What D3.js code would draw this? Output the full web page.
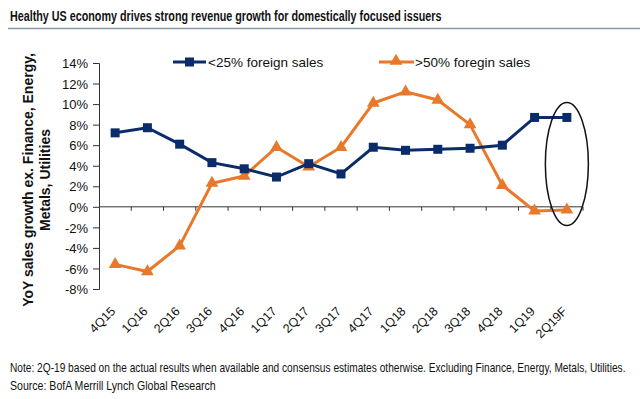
<!DOCTYPE html>
<html>
<head>
<meta charset="utf-8">
<script src="https://cdn.jsdelivr.net/npm/d3@7/dist/d3.min.js"></script>
<style>
  body { margin: 0; background: #fff; }
  text { font-family: "Liberation Sans", Arial, sans-serif; fill: #111; }
</style>
</head>
<body>
<div id="chart"></div>
<script>
// data
var quarters  = ["4Q15","1Q16","2Q16","3Q16","4Q16","1Q17","2Q17","3Q17","4Q17","1Q18","2Q18","3Q18","4Q18","1Q19","2Q19F"]
var domestic  = [7.2, 7.7, 6.1, 4.3, 3.7, 2.9, 4.2, 3.2, 5.8, 5.5, 5.6, 5.7, 6.0, 8.7, 8.7]
var foreign   = [-5.6, -6.3, -3.8, 2.3, 3.0, 5.8, 3.9, 5.8, 10.1, 11.2, 10.4, 8.0, 2.1, -0.4, -0.3]
var yTicks    = [-8, -6, -4, -2, 0, 2, 4, 6, 8, 10, 12, 14]

var width = 640, height = 399
  , navy = "#0b2c6b", orange = "#e8792a"

var svg = d3.select("#chart").append("svg").attr("width", width).attr("height", height)

// squeeze a text horizontally to a given width (no narrow font installed)
function squeeze(sel, x0, y0, w) {
  var natural = sel.node().getComputedTextLength()
  sel.attr("transform", "translate(" + x0 + "," + y0 + ") scale(" + (w / natural) + ",1)")
}

// title + rule
var title = svg.append("text").attr("font-size", 15.5).attr("font-weight", "bold")
   .text("Healthy US economy drives strong revenue growth for domestically focused issuers")
squeeze(title, 10, 21, 432)
svg.append("line").attr("x1", 8).attr("x2", 640).attr("y1", 28.5).attr("y2", 28.5)
   .attr("stroke", "#8a98a6").attr("stroke-width", 1.5)

var x = d3.scaleBand().domain(quarters).range([99, 583])
var y = d3.scaleLinear().domain([-8, 14]).range([289, 63])

// y axis
var yAxis = d3.axisLeft(y).tickValues(yTicks).tickSize(6).tickFormat(function (d) { return d + "%" })
var gy = svg.append("g").attr("transform", "translate(99,0)").call(yAxis)
gy.select(".domain").attr("stroke", "#333")
gy.selectAll(".tick line").attr("stroke", "#333")
gy.selectAll(".tick text").attr("font-size", 13).attr("x", -11).attr("dy", "0.36em")
  .attr("font-family", "'Liberation Sans', Arial, sans-serif").attr("fill", "#111")

// x axis on the zero line, ticks between categories
var gx = svg.append("g").attr("transform", "translate(0," + y(0) + ")")
gx.append("line").attr("x1", 99).attr("x2", 583).attr("stroke", "#333")
gx.selectAll(".tk").data(quarters).enter().append("line")
  .attr("x1", function (d) { return x(d) + x.bandwidth() }).attr("x2", function (d) { return x(d) + x.bandwidth() })
  .attr("y1", 0).attr("y2", 4).attr("stroke", "#333")

// category labels along the bottom, rotated
svg.selectAll(".xl").data(quarters).enter().append("text")
   .attr("transform", function (d) { return "translate(" + (x(d) + x.bandwidth() / 2 + 1) + ",312) rotate(-45)" })
   .attr("text-anchor", "end").attr("font-size", 12.5)
   .text(function (d) { return d })

// y label
var yl = svg.append("text").attr("transform", "translate(0,180) rotate(-90)")
   .attr("text-anchor", "middle").attr("font-size", 14).attr("font-weight", "bold")
yl.append("tspan").attr("x", 0).attr("y", 33).text("YoY sales growth ex. Finance, Energy,")
yl.append("tspan").attr("x", 0).attr("y", 50).text("Metals, Utilities")

var cx = function (d, i) { return x(quarters[i]) + x.bandwidth() / 2 }
var line = d3.line().x(cx).y(function (d) { return y(d) })

// orange series
svg.append("path").datum(foreign).attr("d", line).attr("fill", "none")
   .attr("stroke", orange).attr("stroke-width", 3)
var tri = d3.symbol().type(d3.symbolTriangle).size(70)
svg.selectAll(".tri").data(foreign).enter().append("path")
   .attr("d", tri).attr("fill", orange)
   .attr("transform", function (d, i) { return "translate(" + cx(d, i) + "," + y(d) + ")" })

// navy series
svg.append("path").datum(domestic).attr("d", line).attr("fill", "none")
   .attr("stroke", navy).attr("stroke-width", 3)
svg.selectAll(".sq").data(domestic).enter().append("rect")
   .attr("x", function (d, i) { return cx(d, i) - 4.5 }).attr("y", function (d) { return y(d) - 4.5 })
   .attr("width", 9).attr("height", 9).attr("fill", navy)

// ellipse around the forecast
svg.append("ellipse").attr("cx", x("2Q19F") + x.bandwidth() / 2).attr("cy", 164)
   .attr("rx", 21.5).attr("ry", 61.5).attr("fill", "none").attr("stroke", "#111").attr("stroke-width", 1.5)

// legend
var leg = svg.append("g")
leg.append("line").attr("x1", 173).attr("x2", 206).attr("y1", 62).attr("y2", 62).attr("stroke", navy).attr("stroke-width", 3)
leg.append("rect").attr("x", 185).attr("y", 57.5).attr("width", 9).attr("height", 9).attr("fill", navy)
leg.append("text").attr("x", 208).attr("y", 67).attr("font-size", 13.5).text("<25% foreign sales")
leg.append("line").attr("x1", 379).attr("x2", 414).attr("y1", 62).attr("y2", 62).attr("stroke", orange).attr("stroke-width", 3)
leg.append("path").attr("d", tri).attr("fill", orange).attr("transform", "translate(396,61)")
leg.append("text").attr("x", 415).attr("y", 67).attr("font-size", 13.5).text(">50% foregin sales")

// footnotes
var note = svg.append("text").attr("font-size", 12)
   .text("Note: 2Q-19 based on the actual results when available and consensus estimates otherwise. Excluding Finance, Energy, Metals, Utilities.")
squeeze(note, 10, 372, 616)
var src = svg.append("text").attr("font-size", 12)
   .text("Source: BofA Merrill Lynch Global Research")
squeeze(src, 10, 390, 206)
</script>
</body>
</html>
